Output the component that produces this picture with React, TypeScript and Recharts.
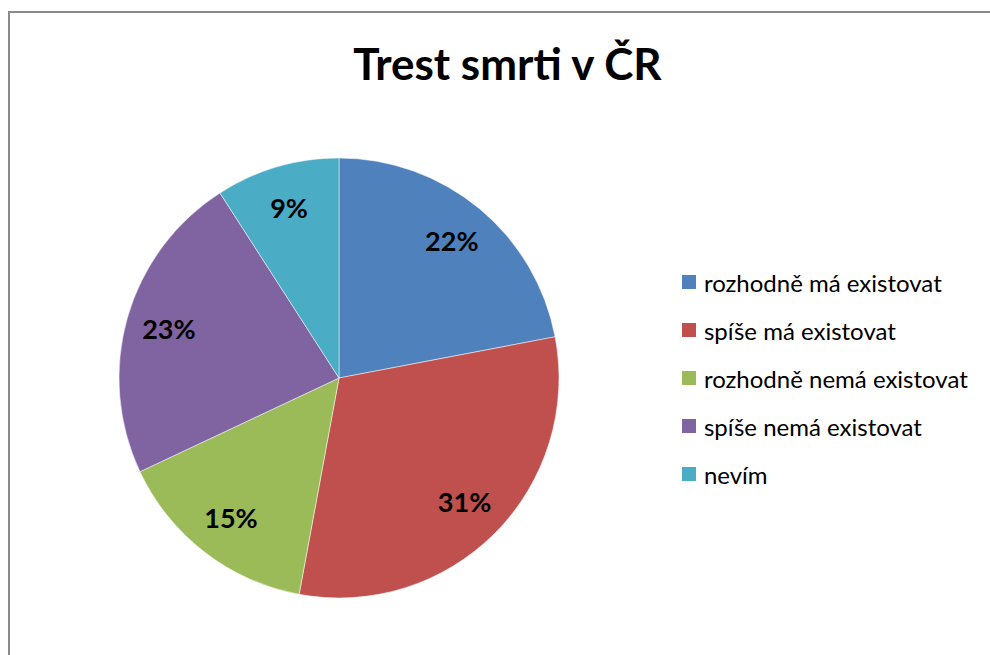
import React from "react";
import { PieChart, Pie, Cell, Legend } from "recharts";

const categories = [
  "rozhodně má existovat",
  "spíše má existovat",
  "rozhodně nemá existovat",
  "spíše nemá existovat",
  "nevím",
];
const shares = [22.0, 30.9, 15.1, 22.9, 9.1];
const colors = ["#4F81BD", "#C0504D", "#9BBB59", "#8064A2", "#4BACC6"];
const title = "Trest smrti v ČR";

const data = categories.map((name, i) => ({ name, value: shares[i] }));

const RAD = Math.PI / 180;
const LABEL_FS = 27;
const FONT = "Lato, 'Noto Sans', sans-serif";

const renderLabel = (props: any) => {
  const { cx, cy, midAngle, percent } = props;
  const r = 177;
  const x = cx + r * Math.cos(-midAngle * RAD);
  const y = cy + r * Math.sin(-midAngle * RAD);
  return (
    <text
      x={x}
      y={y + LABEL_FS * 0.36}
      textAnchor="middle"
      fill="#000"
      style={{ fontFamily: FONT, fontWeight: 700, fontSize: LABEL_FS }}
    >
      {Math.round(percent * 100) + "%"}
    </text>
  );
};

const renderLegend = () => {
  return (
    <div style={{ fontFamily: FONT, fontSize: 24, color: "#000" }}>
      {categories.map((name, i) => (
        <div key={name} style={{ height: 48.1, display: "flex", alignItems: "center" }}>
          <div style={{ width: 14, height: 14, background: colors[i], flexShrink: 0 }} />
          <span style={{ marginLeft: 7.6, whiteSpace: "nowrap", lineHeight: "normal" }}>{name}</span>
        </div>
      ))}
    </div>
  );
};

export default function App() {
  return (
    <div
      style={{
        position: "fixed",
        left: 0,
        top: 0,
        width: 990,
        height: 655,
        overflow: "hidden",
        background: "#fff",
      }}
    >
      <style>{`html,body{overflow:hidden}`}</style>
      <div
        style={{
          position: "absolute",
          left: 8,
          top: 11,
          width: 1100,
          height: 800,
          borderTop: "2px solid #8a8a8a",
          borderLeft: "2px solid #8a8a8a",
          boxSizing: "border-box",
        }}
      />
      <div
        style={{
          position: "absolute",
          left: 507.4,
          top: 36.6,
          transform: "translateX(-50%)",
          whiteSpace: "nowrap",
          fontFamily: FONT,
          fontWeight: 700,
          fontSize: 44,
          lineHeight: "normal",
          color: "#000",
        }}
      >
        {title}
      </div>
      <div style={{ position: "absolute", left: 0, top: 0 }}>
        <PieChart width={990} height={655} margin={{ top: 0, right: 0, bottom: 0, left: 0 }}>
          <Pie
            data={data}
            dataKey="value"
            nameKey="name"
            cx={339}
            cy={378}
            outerRadius={220}
            startAngle={90}
            endAngle={-270}
            stroke="#ffffff"
            strokeWidth={0.5}
            label={renderLabel}
            labelLine={false}
            isAnimationActive={false}
          >
            {data.map((d, i) => (
              <Cell key={d.name} fill={colors[i]} />
            ))}
          </Pie>
          <Legend
            layout="vertical"
            align="right"
            verticalAlign="top"
            content={renderLegend}
            wrapperStyle={{ position: "absolute", left: 682.3, top: 258, width: 300 }}
          />
        </PieChart>
      </div>
    </div>
  );
}
